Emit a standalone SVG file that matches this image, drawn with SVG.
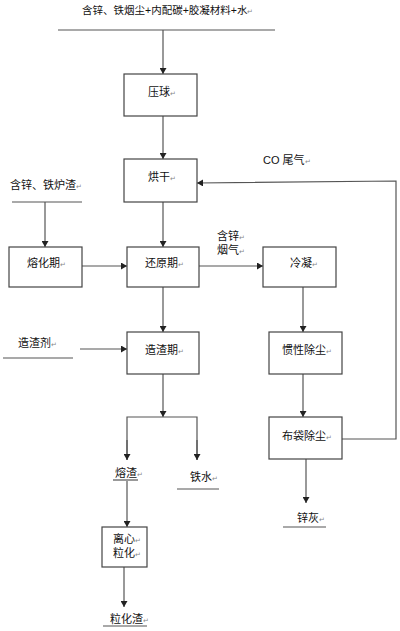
<svg xmlns="http://www.w3.org/2000/svg" width="400" height="631" viewBox="0 0 400 631">
<style>
text{font-family:"Liberation Sans","Noto Sans CJK SC",sans-serif;font-size:11px;fill:#111}
.t{font-size:10.5px}
.m{font-size:7px;fill:#888}
.box{fill:#fff;stroke:#444;stroke-width:1.2}
.ln{fill:none;stroke:#555;stroke-width:1.2}
.ul{stroke:#555;stroke-width:1.2}
</style>
<defs>
<marker id="a" markerUnits="userSpaceOnUse" markerWidth="7" markerHeight="7" refX="6" refY="3.5" orient="auto">
<path d="M0,0 L6,3.5 L0,7 Z" fill="#222"/>
</marker>
</defs>
<rect width="400" height="631" fill="#fff"/>
<g id="connectors">
<line class="ul" x1="58" y1="30" x2="275" y2="30"/>
<line class="ln" x1="163" y1="30" x2="163" y2="74" marker-end="url(#a)"/>
<line class="ln" x1="163" y1="116" x2="163" y2="159" marker-end="url(#a)"/>
<line class="ln" x1="163" y1="202" x2="163" y2="247" marker-end="url(#a)"/>
<line class="ul" x1="12" y1="202" x2="82" y2="202"/>
<line class="ln" x1="45" y1="202" x2="45" y2="247" marker-end="url(#a)"/>
<line class="ln" x1="82" y1="266" x2="127" y2="266" marker-end="url(#a)"/>
<line class="ln" x1="199" y1="266" x2="263" y2="266" marker-end="url(#a)"/>
<line class="ln" x1="163" y1="287" x2="163" y2="332" marker-end="url(#a)"/>
<line class="ul" x1="3" y1="358" x2="73" y2="358"/>
<line class="ln" x1="80" y1="349" x2="127" y2="349" marker-end="url(#a)"/>
<line class="ln" x1="163" y1="374" x2="163" y2="417" marker-end="url(#a)"/>
<polyline class="ln" points="127,460 127,417 197,417 197,460"/>
<line class="ln" x1="127" y1="440" x2="127" y2="460" marker-end="url(#a)"/>
<line class="ln" x1="197" y1="440" x2="197" y2="460" marker-end="url(#a)"/>
<line class="ln" x1="303" y1="287" x2="303" y2="332" marker-end="url(#a)"/>
<line class="ln" x1="303" y1="374" x2="303" y2="417" marker-end="url(#a)"/>
<polyline class="ln" points="342,439 396,439 396,181 197,183" marker-end="url(#a)"/>
<line class="ln" x1="306" y1="459" x2="306" y2="503" marker-end="url(#a)"/>
<line class="ul" x1="113" y1="480" x2="138" y2="480"/>
<line class="ln" x1="127" y1="481" x2="127" y2="527" marker-end="url(#a)"/>
<line class="ul" x1="177" y1="489" x2="219" y2="489"/>
<line class="ul" x1="283" y1="527" x2="326" y2="527"/>
<line class="ln" x1="124" y1="567" x2="124" y2="607" marker-end="url(#a)"/>
<line class="ul" x1="103" y1="626" x2="147" y2="626"/>
</g>
<g id="labels">
<text class="t" x="82" y="14">含锌、铁烟尘+内配碳+胶凝材料+水<tspan class="m">↵</tspan></text>
<text x="263" y="164">CO 尾气<tspan class="m">↵</tspan></text>
<text x="10" y="189">含锌、铁炉渣<tspan class="m">↵</tspan></text>
<text x="217" y="240">含锌<tspan class="m">↵</tspan></text>
<text x="217" y="254">烟气<tspan class="m">↵</tspan></text>
<text x="18" y="347">造渣剂<tspan class="m">↵</tspan></text>
<text x="115" y="477">熔渣<tspan class="m">↵</tspan></text>
<text x="190" y="481">铁水<tspan class="m">↵</tspan></text>
<text x="297" y="522">锌灰<tspan class="m">↵</tspan></text>
<text x="110" y="623">粒化渣<tspan class="m">↵</tspan></text>
</g>
<g id="n-yaqiu"><rect class="box" x="124" y="74" width="73" height="42"/><text x="148" y="96">压球<tspan class="m">↵</tspan></text></g>
<g id="n-honggan"><rect class="box" x="124" y="159" width="73" height="43"/><text x="148" y="181">烘干<tspan class="m">↵</tspan></text></g>
<g id="n-ronghua"><rect class="box" x="9" y="247" width="73" height="40"/><text x="27" y="267">熔化期<tspan class="m">↵</tspan></text></g>
<g id="n-huanyuan"><rect class="box" x="127" y="247" width="72" height="40"/><text x="145" y="267">还原期<tspan class="m">↵</tspan></text></g>
<g id="n-lengning"><rect class="box" x="263" y="247" width="73" height="40"/><text x="290" y="267">冷凝<tspan class="m">↵</tspan></text></g>
<g id="n-zaozha"><rect class="box" x="127" y="332" width="72" height="42"/><text x="145" y="354">造渣期<tspan class="m">↵</tspan></text></g>
<g id="n-guanxing"><rect class="box" x="269" y="332" width="73" height="42"/><text x="282" y="354">惯性除尘<tspan class="m">↵</tspan></text></g>
<g id="n-budai"><rect class="box" x="269" y="417" width="73" height="42"/><text x="282" y="440">布袋除尘<tspan class="m">↵</tspan></text></g>
<g id="n-lixin"><rect class="box" x="102" y="527" width="45" height="40"/><text x="113" y="543">离心<tspan class="m">↵</tspan></text><text x="113" y="557">粒化<tspan class="m">↵</tspan></text></g>
</svg>
